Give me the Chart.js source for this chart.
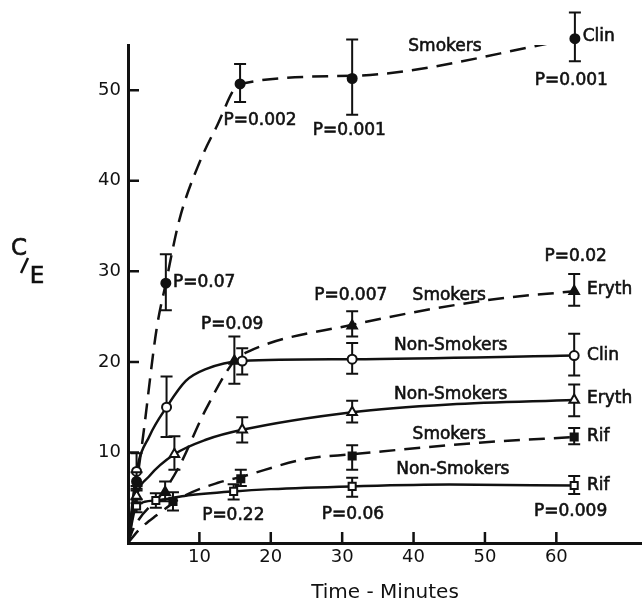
<!DOCTYPE html>
<html>
<head>
<meta charset="utf-8">
<script src="https://cdn.jsdelivr.net/npm/chart.js@4/dist/chart.umd.min.js"></script>
<style>
  html, body { margin: 0; padding: 0; background: #fff; }
  canvas { display: block; }
</style>
</head>
<body>
<canvas id="chart" width="642" height="605"></canvas>
<script>
'use strict';

// axis ticks
const xTickVals = [10, 20, 30, 40, 50, 60];
const yTickVals = [10, 20, 30, 40, 50];

// --- Clindamycin, smokers (filled circles, dashed curve)
const clinSmkT  = [1.2, 5.3, 15.7, 31.4, 62.6];
const clinSmkY  = [6.8, 28.7, 50.7, 51.3, 55.7];
const clinSmkHi = [7.8, 31.9, 52.9, 55.6, 58.6];
const clinSmkLo = [5.8, 25.7, 48.7, 47.3, 53.2];
const clinSmkCurveT = [0, 2, 4, 5.3, 7.2, 10, 12.3, 15.7, 31.4, 62.6];
const clinSmkCurveY = [0, 11.1, 23.6, 28.7, 35.7, 42.0, 45.8, 50.7, 51.6, 55.7];

// --- Clindamycin, non-smokers (open circles, solid curve)
const clinNonT  = [1.2, 5.4, 16.0, 31.4, 62.5];
const clinNonY  = [7.9, 15.0, 20.1, 20.3, 20.7];
const clinNonHi = [9.9, 18.4, 21.5, 22.1, 23.1];
const clinNonLo = [6.3, 11.7, 18.6, 18.7, 18.5];
const clinNonCurveT = [0, 1.2, 3, 5.4, 8.1, 10.9, 16, 31.4, 62.5];
const clinNonCurveY = [0, 7.9, 11.8, 15.0, 17.9, 19.2, 20.1, 20.3, 20.7];

// --- Erythromycin, smokers (filled triangles, dashed curve)
const erySmkT  = [5.2, 14.9, 31.4, 62.5];
const erySmkY  = [5.6, 20.1, 24.0, 27.8];
const erySmkHi = [6.8, 22.8, 25.6, 29.7];
const erySmkLo = [4.6, 17.6, 22.8, 26.2];
const erySmkCurveT = [0, 0.7, 5.2, 7.2, 10.9, 14.9, 17, 31.4, 51, 62.5];
const erySmkCurveY = [0, 1.5, 5.9, 8.5, 14.75, 20.1, 21.2, 24.1, 26.9, 27.8];

// --- Erythromycin, non-smokers (open triangles, solid curve)
const eryNonT  = [1.2, 6.5, 16.0, 31.4, 62.5];
const eryNonY  = [5.2, 9.8, 12.5, 14.45, 15.8];
const eryNonHi = [6.0, 11.8, 13.9, 15.7, 17.5];
const eryNonLo = [4.4, 8.1, 11.1, 13.3, 14.0];
const eryNonCurveT = [0, 1.2, 3, 6.5, 10.9, 16, 31.4, 45, 62.5];
const eryNonCurveY = [0, 5.2, 7.4, 9.8, 11.4, 12.5, 14.45, 15.3, 15.8];

// --- Rifampin, smokers (filled squares, dashed curve)
const rifSmkT  = [6.3, 15.8, 31.4, 62.5];
const rifSmkY  = [4.6, 7.1, 9.6, 11.7];
const rifSmkHi = [5.6, 8.1, 10.8, 12.7];
const rifSmkLo = [3.6, 6.3, 8.1, 10.9];
const rifSmkCurveT = [0, 1.6, 3.9, 7.9, 12.6, 15.8, 25, 31.4, 49.6, 62.5];
const rifSmkCurveY = [0, 1.5, 3.0, 5.2, 6.65, 7.3, 9.3, 9.8, 11.1, 11.7];

// --- Rifampin, non-smokers (open squares, solid curve)
const rifNonT  = [1.2, 3.9, 14.8, 31.4, 62.5];
const rifNonY  = [4.1, 4.7, 5.7, 6.25, 6.35];
const rifNonHi = [4.8, 5.5, 6.5, 7.2, 7.4];
const rifNonLo = [3.4, 3.9, 4.8, 5.1, 5.4];
const rifNonCurveT = [0, 1.2, 3.9, 7.9, 14.8, 20, 31.4, 45, 62.5];
const rifNonCurveY = [0, 4.1, 4.7, 5.2, 5.7, 5.95, 6.25, 6.45, 6.35];

// text written on the plot: [text, minutes, C/E, align]
const notes = [
  ['Smokers',     44.4, 54.8, 'center'],
  ['Clin',        63.7, 55.9, 'left'],
  ['P=0.001',     62.1, 51.1, 'center'],
  ['P=0.002',     18.5, 46.7, 'center'],
  ['P=0.001',     31.0, 45.6, 'center'],
  ['P=0.07',       6.3, 28.8, 'left'],
  ['P=0.09',      14.6, 24.1, 'center'],
  ['P=0.007',     31.2, 27.3, 'center'],
  ['Smokers',     45.0, 27.3, 'center'],
  ['P=0.02',      62.7, 31.6, 'center'],
  ['Eryth',       64.3, 28.0, 'left'],
  ['Non-Smokers', 45.2, 21.75, 'center'],
  ['Clin',        64.3, 20.7, 'left'],
  ['Non-Smokers', 45.2, 16.4, 'center'],
  ['Eryth',       64.3, 15.9, 'left'],
  ['Smokers',     45.0, 12.0, 'center'],
  ['Rif',         64.3, 11.8, 'left'],
  ['Non-Smokers', 45.5, 8.1, 'center'],
  ['Rif',         64.3, 6.35, 'left'],
  ['P=0.22',      14.75, 3.0, 'center'],
  ['P=0.06',      31.5, 3.15, 'center'],
  ['P=0.009',     62.0, 3.5, 'center'],
];

const INK = '#111';
const FONT = '"DejaVu Sans", sans-serif';

const pts = (xs, ys) => xs.map((x, i) => ({ x, y: ys[i] }));

function curve(xs, ys, dashed) {
  return {
    type: 'line',
    data: pts(xs, ys),
    borderColor: INK,
    borderWidth: 2.5,
    borderDash: dashed ? [16, 9] : [],
    pointRadius: 0,
    cubicInterpolationMode: 'monotone',
    fill: false,
    order: 2,
  };
}

function markers(xs, ys, hi, lo, style, filled, radius) {
  return {
    type: 'scatter',
    data: pts(xs, ys),
    errX: xs, errHi: hi, errLo: lo,
    pointStyle: style,
    pointRadius: radius,
    pointBackgroundColor: filled ? INK : '#fff',
    pointBorderColor: INK,
    pointBorderWidth: 2,
    showLine: false,
    clip: false,
    order: 1,
  };
}

const errorBars = {
  id: 'errorBars',
  beforeDatasetDraw(chart, args) {
    const ds = chart.data.datasets[args.index];
    if (!ds.errHi) return;
    const { ctx, scales: { x, y } } = chart;
    ctx.save();
    ctx.strokeStyle = INK;
    ctx.lineWidth = 2;
    ds.errX.forEach((t, i) => {
      const px = x.getPixelForValue(t);
      const top = y.getPixelForValue(ds.errHi[i]);
      const bot = y.getPixelForValue(ds.errLo[i]);
      ctx.beginPath();
      ctx.moveTo(px, top); ctx.lineTo(px, bot);
      ctx.moveTo(px - 6, top); ctx.lineTo(px + 6, top);
      ctx.moveTo(px - 6, bot); ctx.lineTo(px + 6, bot);
      ctx.stroke();
    });
    ctx.restore();
  },
};

const decor = {
  id: 'decor',
  afterDraw(chart) {
    const { ctx, chartArea: a, scales: { x, y } } = chart;
    ctx.save();
    ctx.strokeStyle = INK;
    ctx.lineWidth = 2.5;
    // inward tick marks
    ctx.beginPath();
    x.ticks.forEach(t => {
      const px = x.getPixelForValue(t.value);
      ctx.moveTo(px, a.bottom); ctx.lineTo(px, a.bottom - 11);
    });
    y.ticks.forEach(t => {
      const py = y.getPixelForValue(t.value);
      ctx.moveTo(a.left, py); ctx.lineTo(a.left + 11, py);
    });
    ctx.stroke();

    // labels on the plot (slightly heavier, like the lettering of the original)
    ctx.fillStyle = INK;
    ctx.lineWidth = 0.6;
    ctx.font = '17px ' + FONT;
    ctx.textBaseline = 'middle';
    notes.forEach(([txt, t, v, align]) => {
      ctx.textAlign = align;
      const px = x.getPixelForValue(t), py = y.getPixelForValue(v);
      ctx.fillText(txt, px, py);
      ctx.strokeText(txt, px, py);
    });

    // y title "C/E"
    ctx.font = '23px ' + FONT;
    ctx.textAlign = 'center';
    ctx.fillText('C', 19, 249);
    ctx.strokeText('C', 19, 249);
    ctx.fillText('E', 37, 277);
    ctx.strokeText('E', 37, 277);
    ctx.lineWidth = 2.5;
    ctx.beginPath();
    ctx.moveTo(21, 273); ctx.lineTo(28, 258);
    ctx.stroke();
    ctx.restore();
  },
};

new Chart(document.getElementById('chart'), {
  data: {
    datasets: [
      curve(clinSmkCurveT, clinSmkCurveY, true),
      curve(clinNonCurveT, clinNonCurveY, false),
      curve(erySmkCurveT, erySmkCurveY, true),
      curve(eryNonCurveT, eryNonCurveY, false),
      curve(rifSmkCurveT, rifSmkCurveY, true),
      curve(rifNonCurveT, rifNonCurveY, false),
      markers(clinSmkT, clinSmkY, clinSmkHi, clinSmkLo, 'circle', true, 4.5),
      markers(clinNonT, clinNonY, clinNonHi, clinNonLo, 'circle', false, 4.5),
      markers(erySmkT, erySmkY, erySmkHi, erySmkLo, 'triangle', true, 5.5),
      markers(eryNonT, eryNonY, eryNonHi, eryNonLo, 'triangle', false, 5.5),
      markers(rifSmkT, rifSmkY, rifSmkHi, rifSmkLo, 'rect', true, 5),
      markers(rifNonT, rifNonY, rifNonHi, rifNonLo, 'rect', false, 5),
    ],
  },
  options: {
    responsive: false,
    animation: false,
    events: [],
    layout: { autoPadding: false, padding: { top: 45, right: 0, left: 0, bottom: 0 } },
    plugins: {
      legend: { display: false },
      tooltip: { enabled: false },
    },
    scales: {
      x: {
        type: 'linear',
        min: 0,
        max: 72,
        afterBuildTicks: s => { s.ticks = xTickVals.map(value => ({ value })); },
        afterFit: s => { s.height = 62; s.paddingLeft = 0; s.paddingRight = 0; },
        ticks: { color: INK, font: { family: FONT, size: 18 }, padding: 4, maxRotation: 0, autoSkip: false },
        grid: { display: false, drawTicks: false },
        border: { display: true, color: INK, width: 3 },
        title: { display: true, text: 'Time - Minutes', color: INK, font: { family: FONT, size: 20 }, padding: 0 },
      },
      y: {
        type: 'linear',
        min: 0,
        max: 55,
        afterBuildTicks: s => { s.ticks = yTickVals.map(value => ({ value })); },
        afterFit: s => { s.width = 128; s.paddingTop = 0; s.paddingBottom = 0; },
        ticks: { color: INK, font: { family: FONT, size: 18 }, padding: 7 },
        grid: { display: false, drawTicks: false },
        border: { display: true, color: INK, width: 3 },
      },
    },
  },
  plugins: [errorBars, decor],
});
</script>
</body>
</html>
